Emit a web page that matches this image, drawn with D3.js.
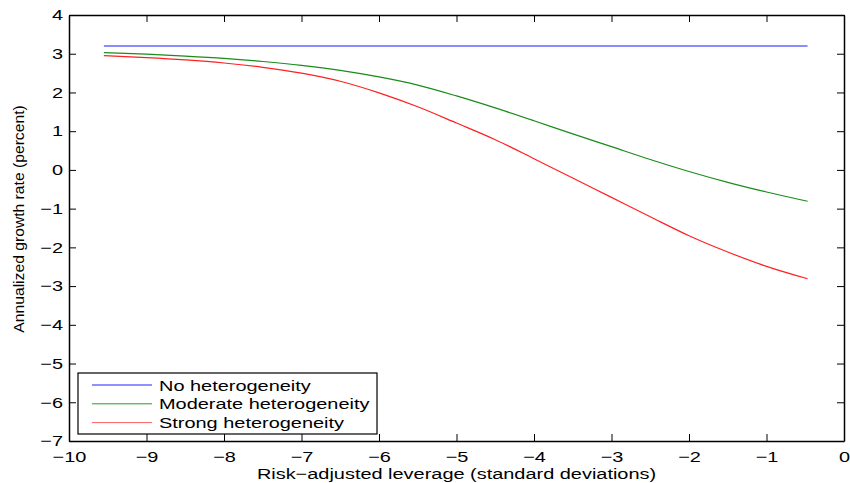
<!DOCTYPE html>
<html>
<head>
<meta charset="utf-8">
<script src="https://cdn.jsdelivr.net/npm/d3@7"></script>
<style>
  body { margin: 0; background: #fff; }
  text { font-family: "Liberation Sans", Arial, sans-serif; fill: #000; }
</style>
</head>
<body>
<div id="chart"></div>
<script>
// Leverage grid (standard deviations)
const leverage = [-9.55, -9, -8.5, -8, -7.5, -7, -6.5, -6, -5.5, -5, -4.5, -4, -3.5, -3, -2.5, -2, -1.5, -1, -0.47];
// Growth rates (percent)
const noHet = [3.2, 3.2, 3.2, 3.2, 3.2, 3.2, 3.2, 3.2, 3.2, 3.2, 3.2, 3.2, 3.2, 3.2, 3.2, 3.2, 3.2, 3.2, 3.2];
const moderateHet = [3.03, 2.99, 2.94, 2.88, 2.80, 2.70, 2.57, 2.40, 2.19, 1.91, 1.60, 1.27, 0.93, 0.60, 0.27, -0.04, -0.32, -0.57, -0.81];
const strongHet = [2.95, 2.90, 2.84, 2.76, 2.65, 2.50, 2.29, 1.99, 1.63, 1.21, 0.78, 0.29, -0.21, -0.71, -1.21, -1.70, -2.12, -2.49, -2.81];
const xTicks = [-10, -9, -8, -7, -6, -5, -4, -3, -2, -1, 0];
const yTicks = [4, 3, 2, 1, 0, -1, -2, -3, -4, -5, -6, -7];
const seriesNames = ["No heterogeneity", "Moderate heterogeneity", "Strong heterogeneity"];

function init() {
    const w = 850, h = 483;
    const left = 69, right = 844, top = 15, bottom = 441;
    const tickLen = 7;
    const sx = 1.33; // the original text is stretched horizontally

    const svg = d3.select("#chart").append("svg")
        .attr("width", w)
        .attr("height", h);

    const x = d3.scaleLinear().domain([-10, 0]).range([left, right]);
    const y = d3.scaleLinear().domain([-7, 4]).range([bottom, top]);

    const fmt = d => d < 0 ? "\u2212" + Math.abs(d) : String(d);

    // bottom axis with labels
    const gx = svg.append("g")
        .attr("transform", `translate(0,${bottom})`)
        .call(d3.axisBottom(x).tickValues(xTicks).tickSizeInner(-tickLen).tickSizeOuter(0).tickPadding(10).tickFormat(fmt));
    // top axis, ticks only
    const gxt = svg.append("g")
        .attr("transform", `translate(0,${top})`)
        .call(d3.axisTop(x).tickValues(xTicks).tickSizeInner(-tickLen).tickSizeOuter(0).tickFormat(""));
    // left axis with labels
    const gy = svg.append("g")
        .attr("transform", `translate(${left},0)`)
        .call(d3.axisLeft(y).tickValues(yTicks).tickSizeInner(-tickLen).tickSizeOuter(0).tickPadding(6).tickFormat(fmt));
    // right axis, ticks only
    const gyr = svg.append("g")
        .attr("transform", `translate(${right},0)`)
        .call(d3.axisRight(y).tickValues(yTicks).tickSizeInner(-tickLen).tickSizeOuter(0).tickFormat(""));

    [gx, gxt, gy, gyr].forEach(g => {
        g.select(".domain").attr("stroke", "#000").attr("stroke-width", 1.5);
        g.selectAll(".tick line").attr("stroke", "#000").attr("stroke-width", 1);
        g.selectAll(".tick text")
            .attr("font-family", "Liberation Sans, Arial, sans-serif")
            .attr("font-size", 15)
            .attr("fill", "#000");
    });
    // widen tick labels like the original
    gx.selectAll(".tick text").attr("transform", `scale(${sx},1)`);
    gy.selectAll(".tick text")
        .attr("x", -6 / sx)
        .attr("transform", `scale(${sx},1)`);

    // lines
    const line = vals => d3.line()
        .x((d, i) => x(leverage[i]))
        .y(d => y(d))
        .curve(d3.curveMonotoneX)(vals);

    svg.append("path").attr("d", line(noHet))
        .attr("fill", "none").attr("stroke", "#8c8cff").attr("stroke-width", 2);
    svg.append("path").attr("d", line(moderateHet))
        .attr("fill", "none").attr("stroke", "#1a8c1a").attr("stroke-width", 1.2);
    svg.append("path").attr("d", line(strongHet))
        .attr("fill", "none").attr("stroke", "#ff2020").attr("stroke-width", 1.2);

    // legend
    const legend = svg.append("g").attr("transform", "translate(78,373)");
    legend.append("rect")
        .attr("width", 299).attr("height", 61)
        .attr("fill", "#fff").attr("stroke", "#000").attr("stroke-width", 1.2);
    const legendColors = ["#2020ff", "#22a022", "#ff6060"];
    seriesNames.forEach((name, i) => {
        const ry = 12 + i * 18.8;
        legend.append("line")
            .attr("x1", 14).attr("x2", 74)
            .attr("y1", ry).attr("y2", ry)
            .attr("stroke", legendColors[i]).attr("stroke-width", 1);
        legend.append("g")
            .attr("transform", `translate(81,${ry + 5.5}) scale(${sx},1)`)
            .append("text")
            .attr("font-size", 15)
            .text(name);
    });

    // axis titles
    svg.append("g")
        .attr("transform", `translate(${(left + right) / 2},479) scale(${sx},1)`)
        .append("text")
        .attr("text-anchor", "middle")
        .attr("font-size", 15)
        .text("Risk\u2212adjusted leverage (standard deviations)");

    svg.append("g")
        .attr("transform", "translate(24,219) rotate(-90) scale(1.12,1)")
        .append("text")
        .attr("text-anchor", "middle")
        .attr("font-size", 14)
        .text("Annualized growth rate (percent)");
}

window.onload = init;
</script>
</body>
</html>
